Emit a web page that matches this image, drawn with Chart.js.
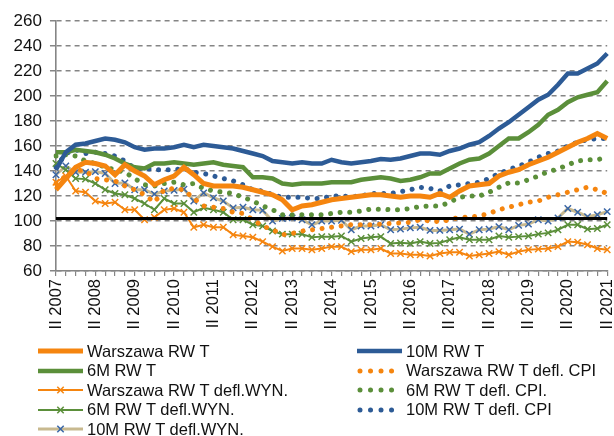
<!DOCTYPE html>
<html>
<head>
<meta charset="utf-8">
<script src="https://cdn.jsdelivr.net/npm/chart.js@4.4.1/dist/chart.umd.min.js"></script>
<style>
  html, body { margin: 0; padding: 0; background: #fff; overflow: hidden; }
  #wrap { position: relative; width: 630px; height: 436px; }
  #legend { position: absolute; left: 0; top: 0; width: 614px; height: 436px; pointer-events: none;
            font-family: "Liberation Sans", Arial, sans-serif; font-size: 16.5px; color: #111; }
  .item { position: absolute; height: 20px; display: flex; align-items: center; white-space: nowrap; }
  .item svg { margin-right: 4px; }
</style>
</head>
<body>
<div id="wrap"><canvas id="chart"></canvas><div id="legend"></div></div>
<script>
// kwartaly II 2007 .. II 2021
const years = [2007, 2008, 2009, 2010, 2011, 2012, 2013, 2014, 2015, 2016, 2017, 2018, 2019, 2020, 2021];
const quarterNames = ["II", "III", "IV", "I"];
const categories = [];
years.forEach((y, yi) => {
  quarterNames.forEach((q, qi) => {
    const year = qi === 3 ? y + 1 : y;
    if (yi === years.length - 1 && qi > 0) return;
    categories.push(q + " " + year);
  });
});

const yTicks = [60, 80, 100, 120, 140, 160, 180, 200, 220, 240, 260];
const refLevel = 102;

const warszawa = [125,134,143,147,146,144,137,145,140,136,129,133,136,143,137,130,128,128,128,127,125,123,121,117,109,112,113,115,117,118,119,120,121,121,120,119,120,120,119,122,119,124,128,129,130,136,139,141,145,148,151,155,159,163,166,170,166];
const m10 = [141,155,161,162,164,166,165,163,159,157,158,158,159,161,159,161,160,159,158,156,154,152,148,147,146,147,146,146,149,147,146,147,148,149.5,149,150,152,154,154,153,156,158,161,163,168,174,179,185,191,197,201,209,218,218,222,226,234];
const m6 = [155,155,157,156,155,153,150,146,143,142,146,146,147,146,145,146,147,145,144,143,135,135,134,130,129,130,130,130,131,131,131,133,134,135,134,132,133,135,138,138,142,146,149,150,154,160,166,166,171,177,185,189,195,199,201,203,212];
const warszawaCpi = [130,136,141,140,134,133,132,128,125,121,115,125,126,125,118,112,111,110,107,106,101,96,93,89,90,92,93,94,95,96,97,97,97,97.5,98,98.5,99,101,100,99.5,101,103,103,104,106,109,111,113,115,116,119,121,123,125,127,125,122];
const warszawaWyn = [131,136,124,123,116,114,115,109,109,101,103,109,110,107,95,97,95,95,89,88,87,83.5,79.5,76,78,78,77,78,79.5,79.5,75.5,77,77,78,74,74,73,73,72,74,75,75,72,73,74,75.5,73,75.5,77,77.5,78,79.5,83.5,83,81,78,77];
const m6Cpi = [152,153,152,148,146,143,141,139,134,129,128,130,131,129,130,126,124,123,122,119,116,112,109,105,105,105,105,105,106,107,107,108,109.5,109.5,109,109,110,111.5,112,112,115,119,120,120,123,127,130.5,130.5,133,136,139.5,141.5,145,148,149,149,151];
const m6Wyn = [146,141,134,133.5,130,125,122,121,118,114,109,118,114,114,107,110.5,109,107,101,101,97,96,92,89.5,89.5,89.5,87,87.5,87.5,88,83.5,86,87,87.5,82,82.5,82,83.5,82,82.5,85,87,85,85,85,88,87,87.5,88,89.5,90.5,93,97,97,93.5,94,97];
const m10Cpi = [143,154,157,154,155,154,152,148,142,142,141,141,141,142,139,138,136,134,132,129,125,124,121,119,119,119,118,118,120,120,119.5,120,122,122,122,123.5,125,127,126,124,128,129,130,131,134,138,141,144,147,151,154,156,160,163,165,166,166];
const m10Wyn = [137,144,139,139,139.5,138,130,130.5,125,125,121.5,124,124.5,125.5,116,122.5,118.5,116,110.5,111,109,108.5,100,102,102.5,101,97,100,100,100.5,93,96,96,97,93,93.5,94.5,95,92.5,92.5,93,93.5,89.5,93,93.5,95.5,93,96.5,97.5,101,100,102.5,110,107,103.5,105,107.5];

const ORANGE = "#f5850f";
const BLUE = "#2d5b96";
const GREEN = "#5b8f3a";
const TAN = "#c8b98f";
const AXIS = "#858585";
const FONT = '"Liberation Sans", Arial, sans-serif';
const DOTS = [0.01, 9.6];

function solid(label, data, color, width) {
  return { label, data, borderColor: color, backgroundColor: color, borderWidth: width,
           pointRadius: 0, tension: 0, fill: false };
}
function dotted(label, data, color) {
  return { label, data, borderColor: color, backgroundColor: color, borderWidth: 5,
           borderDash: DOTS, borderCapStyle: "round", pointRadius: 0, tension: 0, fill: false };
}
function crossed(label, data, color, markColor, width) {
  return { label, data, borderColor: color, backgroundColor: markColor, borderWidth: width,
           pointStyle: "crossRot", pointRadius: 4.5, pointBorderWidth: 1.5,
           pointBorderColor: markColor, pointHoverRadius: 4.5, tension: 0, fill: false };
}

// kolejnosc jak w legendzie (wierszami, dwie kolumny)
const series = [
  solid("Warszawa RW T", warszawa, ORANGE, 5),
  solid("10M RW T", m10, BLUE, 4.5),
  solid("6M RW T", m6, GREEN, 4.5),
  dotted("Warszawa RW T defl. CPI", warszawaCpi, ORANGE),
  crossed("Warszawa RW T defl.WYN.", warszawaWyn, ORANGE, ORANGE, 2),
  dotted("6M RW T defl. CPI.", m6Cpi, GREEN),
  crossed("6M RW T defl.WYN.", m6Wyn, GREEN, GREEN, 2),
  dotted("10M RW T defl. CPI", m10Cpi, BLUE),
  crossed("10M RW T defl.WYN.", m10Wyn, TAN, "#3a66a6", 3),
];
// linia 100 na samej gorze (pierwszy zbior rysowany ostatni)
const refLine = solid("", categories.map(() => refLevel), "#000", 3);
const datasets = [refLine, ...series];

new Chart(document.getElementById("chart"), {
  type: "line",
  data: { labels: categories, datasets },
  options: {
    responsive: true,
    maintainAspectRatio: false,
    animation: false,
    events: [],
    layout: { padding: { top: 21, left: 5.6, right: 7, bottom: 101 } },
    plugins: { legend: { display: false }, tooltip: { enabled: false } },
    scales: {
      x: {
        offset: false,
        grid: { drawOnChartArea: false, tickLength: 5, color: AXIS, lineWidth: 1.2 },
        border: { color: AXIS, width: 1.6 },
        ticks: {
          autoSkip: false, minRotation: 90, maxRotation: 90, padding: 3,
          color: "#111", font: { family: FONT, size: 16.5 },
          callback: (v, i) => (i % 4 === 0 ? categories[i] : "")
        },
        afterFit: (s) => { s.height = 64; }
      },
      y: {
        min: yTicks[0], max: yTicks[yTicks.length - 1],
        grid: { color: AXIS, lineWidth: 1.5, tickLength: 6 },
        border: { display: true, color: AXIS, width: 1.6, dash: [5, 4] },
        ticks: { stepSize: yTicks[1] - yTicks[0], padding: 8, color: "#111", font: { family: FONT, size: 17 } }
      }
    }
  }
});

// legenda w dwoch kolumnach
const legendEl = document.getElementById("legend");
const SVGNS = "http://www.w3.org/2000/svg";
series.forEach((ds, k) => {
  const col = k % 2, row = Math.floor(k / 2);
  const x0 = col ? 357 : 38, yc = 350 + row * 19.5;
  const item = document.createElement("div");
  item.className = "item";
  item.style.left = x0 + "px";
  item.style.top = (yc - 10 + 1) + "px";
  const svg = document.createElementNS(SVGNS, "svg");
  svg.setAttribute("width", "45");
  svg.setAttribute("height", "20");
  const ln = document.createElementNS(SVGNS, "line");
  ln.setAttribute("x1", ds.borderDash ? "3" : "0");
  ln.setAttribute("x2", "45");
  ln.setAttribute("y1", "10");
  ln.setAttribute("y2", "10");
  ln.setAttribute("stroke", ds.borderColor);
  ln.setAttribute("stroke-width", ds.borderWidth);
  if (ds.borderDash) {
    ln.setAttribute("stroke-dasharray", "0.01 10.5");
    ln.setAttribute("stroke-linecap", "round");
  }
  svg.appendChild(ln);
  if (ds.pointStyle) {
    const r = 3.2, cx = 22.5;
    [[cx - r, 10 - r, cx + r, 10 + r], [cx + r, 10 - r, cx - r, 10 + r]].forEach((p) => {
      const m = document.createElementNS(SVGNS, "line");
      m.setAttribute("x1", p[0]); m.setAttribute("y1", p[1]);
      m.setAttribute("x2", p[2]); m.setAttribute("y2", p[3]);
      m.setAttribute("stroke", ds.pointBorderColor);
      m.setAttribute("stroke-width", "1.5");
      svg.appendChild(m);
    });
  }
  const txt = document.createElement("span");
  txt.textContent = ds.label;
  item.appendChild(svg);
  item.appendChild(txt);
  legendEl.appendChild(item);
});
</script>
</body>
</html>
